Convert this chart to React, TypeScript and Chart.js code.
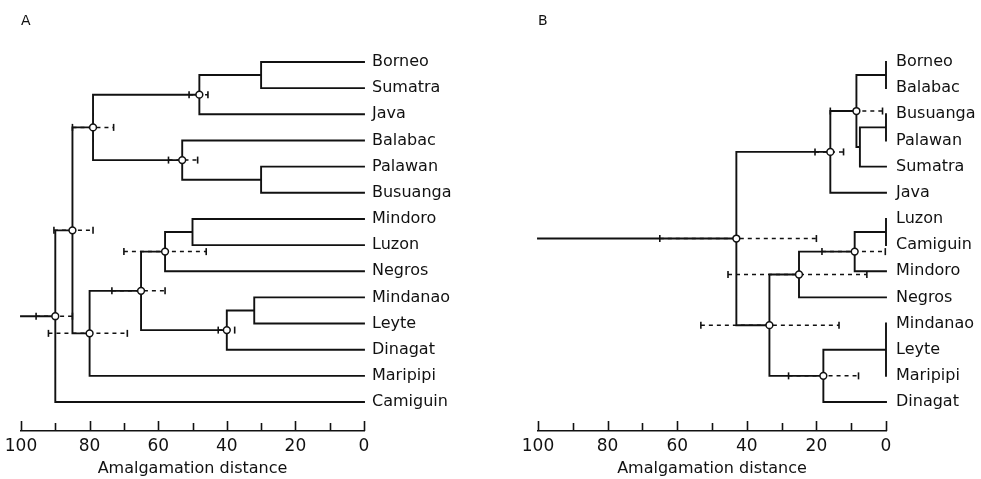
import React, { useEffect, useRef } from 'react';
import { Chart, registerables } from 'chart.js';

Chart.register(...registerables);

// ---------------- Data ----------------
// Panel A
const leavesA = ['Borneo', 'Sumatra', 'Java', 'Balabac', 'Palawan', 'Busuanga', 'Mindoro', 'Luzon', 'Negros', 'Mindanao', 'Leyte', 'Dinagat', 'Maripipi', 'Camiguin'];
// each merge joins leaves or earlier merges ("n<index>")
const mergeMembersA = [
  ['Borneo', 'Sumatra'],
  ['n0', 'Java'],
  ['Palawan', 'Busuanga'],
  ['Balabac', 'n2'],
  ['n1', 'n3'],
  ['Mindoro', 'Luzon'],
  ['n5', 'Negros'],
  ['Mindanao', 'Leyte'],
  ['n7', 'Dinagat'],
  ['n6', 'n8'],
  ['n9', 'Maripipi'],
  ['n4', 'n10'],
  ['n11', 'Camiguin'],
];
const mergeDistanceA = [30, 48, 30, 53, 79, 50, 58, 32, 40, 65, 80, 85, 90];
const intervalUpperA = [null, 51, null, 57, 85, null, 70, null, 42.5, 73.5, 92, 90.4, 95.6];
const intervalLowerA = [null, 45.5, null, 48.5, 73, null, 46, null, 37.7, 58, 69, 79, 85];
const rootReachA = 100;

// Panel B
const leavesB = ['Borneo', 'Balabac', 'Busuanga', 'Palawan', 'Sumatra', 'Java', 'Luzon', 'Camiguin', 'Mindoro', 'Negros', 'Mindanao', 'Leyte', 'Maripipi', 'Dinagat'];
const mergeMembersB = [
  ['Borneo', 'Balabac'],
  ['Busuanga', 'Palawan'],
  ['n1', 'Sumatra'],
  ['n0', 'n2'],
  ['n3', 'Java'],
  ['Luzon', 'Camiguin'],
  ['n5', 'Mindoro'],
  ['n6', 'Negros'],
  ['Mindanao', 'Leyte', 'Maripipi'],
  ['n8', 'Dinagat'],
  ['n7', 'n9'],
  ['n4', 'n10'],
];
const mergeDistanceB = [0, 0, 7.5, 8.5, 16, 0, 9, 25, 0, 18, 33.5, 43];
const intervalUpperB = [null, null, null, 16, 20.4, null, 18.4, 45.4, null, 28, 53.2, 65];
const intervalLowerB = [null, null, null, 1, 12.2, null, 0.2, 5.5, null, 7.9, 13.5, 20];
const rootReachB = 100;

// Axis
const axisMarks = [0, 10, 20, 30, 40, 50, 60, 70, 80, 90, 100];
const axisLabels = [0, 20, 40, 60, 80, 100];
const axisTitle = 'Amalgamation distance';

// ---------------- Styling ----------------
const INK = '#111111';
const FONT = '"DejaVu Sans", sans-serif';
const Y_MIN = -0.925;
const Y_MAX = 14.108;

type Pt = { x: number | null; y: number | null };
const gap = (): Pt => ({ x: null, y: null });

function buildDendrogram(
  leaves: string[],
  members: string[][],
  dist: number[],
  upper: (number | null)[],
  lower: (number | null)[],
  rootReach: number,
) {
  const pos = new Map<string, { x: number; y: number }>();
  leaves.forEach((name, i) => pos.set(name, { x: 0, y: i }));
  const branches: Pt[] = [];
  const intervals: Pt[] = [];
  const ends: Pt[] = [];
  const nodes: Pt[] = [];
  members.forEach((group, k) => {
    const h = dist[k];
    const kids = group.map((g) => pos.get(g)!).sort((a, b) => a.y - b.y);
    const first = kids[0];
    const last = kids[kids.length - 1];
    const path: Pt[] = [];
    if (first.x !== h) path.push({ x: first.x, y: first.y });
    path.push({ x: h, y: first.y }, { x: h, y: last.y });
    if (last.x !== h) path.push({ x: last.x, y: last.y });
    branches.push(...path, gap());
    kids.slice(1, -1).forEach((c) => {
      if (c.x !== h) branches.push({ x: c.x, y: c.y }, { x: h, y: c.y }, gap());
    });
    const y = kids.reduce((s, c) => s + c.y, 0) / kids.length;
    pos.set('n' + k, { x: h, y });
    const up = upper[k];
    const lo = lower[k];
    if (up != null && lo != null) {
      intervals.push({ x: up, y }, { x: lo, y }, gap());
      ends.push({ x: up, y }, { x: lo, y });
      nodes.push({ x: h, y });
    }
  });
  const root = pos.get('n' + (members.length - 1))!;
  branches.push({ x: root.x, y: root.y }, { x: rootReach, y: root.y });
  return { branches, intervals, ends, nodes };
}

const axisMarkPlugin = {
  id: 'axisMarks',
  afterDraw(chart: any) {
    const xs = chart.scales.x;
    const ctx = chart.ctx;
    const bottom = chart.chartArea.bottom;
    ctx.save();
    ctx.strokeStyle = INK;
    ctx.lineWidth = 1.6;
    axisMarks.forEach((v) => {
      const px = Math.round(xs.getPixelForValue(v)) + 0.5;
      const len = v % 20 === 0 ? 10 : 8;
      ctx.beginPath();
      ctx.moveTo(px, bottom);
      ctx.lineTo(px, bottom - len);
      ctx.stroke();
    });
    ctx.restore();
  },
};

function makeConfig(tree: any, leaves: string[], title: string, padLeft: number, labelWidth: number, labelPad: number): any {
  return {
    type: 'scatter',
    data: {
      datasets: [
        {
          data: tree.nodes,
          pointStyle: 'circle',
          pointRadius: 3.4,
          pointBackgroundColor: '#ffffff',
          pointBorderColor: INK,
          pointBorderWidth: 1.5,
          showLine: false,
          order: 0,
          clip: false,
        },
        {
          data: tree.ends,
          pointStyle: 'line',
          pointRotation: 90,
          pointRadius: 3.5,
          pointBorderColor: INK,
          pointBackgroundColor: INK,
          pointBorderWidth: 1.6,
          showLine: false,
          order: 1,
          clip: false,
        },
        {
          data: tree.branches,
          showLine: true,
          borderColor: INK,
          borderWidth: 1.9,
          borderCapStyle: 'square',
          pointRadius: 0,
          spanGaps: false,
          order: 2,
          clip: false,
        },
        {
          data: tree.intervals,
          showLine: true,
          borderColor: INK,
          borderWidth: 1.5,
          borderDash: [4, 4],
          pointRadius: 0,
          spanGaps: false,
          order: 3,
          clip: false,
        },
      ],
    },
    options: {
      responsive: false,
      animation: false,
      events: [],
      layout: { padding: { left: padLeft, right: 0, top: 0, bottom: 0 } },
      plugins: {
        legend: { display: false },
        tooltip: { enabled: false },
        title: {
          display: true,
          text: title,
          align: 'start',
          color: INK,
          font: { family: FONT, size: 14, weight: 'normal' },
          padding: { top: 13, bottom: 8 },
        },
      },
      scales: {
        x: {
          type: 'linear',
          min: 0,
          max: 100,
          reverse: true,
          afterBuildTicks: (s: any) => {
            s.ticks = axisLabels.map((v) => ({ value: v }));
          },
          afterFit: (s: any) => {
            s.height = 48;
          },
          grid: { display: false, drawTicks: false },
          border: { display: true, color: INK, width: 1.6 },
          ticks: {
            color: INK,
            font: { family: FONT, size: 17 },
            padding: 5,
            maxRotation: 0,
            autoSkip: false,
            callback: (v: any) => String(v),
          },
          title: {
            display: true,
            text: axisTitle,
            color: INK,
            font: { family: FONT, size: 16 },
            padding: { top: 0, bottom: 1 },
          },
        },
        y: {
          type: 'linear',
          position: 'right',
          reverse: true,
          min: Y_MIN,
          max: Y_MAX,
          afterBuildTicks: (s: any) => {
            s.ticks = leaves.map((_, i) => ({ value: i }));
          },
          afterFit: (s: any) => {
            s.width = labelWidth;
          },
          grid: { display: false, drawTicks: false },
          border: { display: false },
          ticks: {
            color: INK,
            font: { family: FONT, size: 16 },
            padding: labelPad,
            autoSkip: false,
            callback: (v: any) => leaves[v] ?? '',
          },
        },
      },
    },
    plugins: [axisMarkPlugin],
  };
}

function Panel(props: { left: number; width: number; build: () => any }) {
  const ref = useRef<HTMLCanvasElement | null>(null);
  useEffect(() => {
    if (!ref.current) return;
    const chart = new Chart(ref.current, props.build());
    return () => chart.destroy();
  }, []);
  return (
    <div style={{ position: 'absolute', left: props.left, top: 0, width: props.width, height: 479 }}>
      <canvas ref={ref} width={props.width} height={479} style={{ display: 'block', width: props.width, height: 479 }} />
    </div>
  );
}

export default function App() {
  const treeA = buildDendrogram(leavesA, mergeMembersA, mergeDistanceA, intervalUpperA, intervalLowerA, rootReachA);
  const treeB = buildDendrogram(leavesB, mergeMembersB, mergeDistanceB, intervalUpperB, intervalLowerB, rootReachB);
  return (
    <div style={{ position: 'absolute', left: 0, top: 0, width: 981, height: 479, background: '#ffffff', overflow: 'hidden' }}>
      <Panel left={0} width={490} build={() => makeConfig(treeA, leavesA, 'A', 21, 126, 8)} />
      <Panel left={490} width={491} build={() => makeConfig(treeB, leavesB, 'B', 48, 95, 10)} />
    </div>
  );
}
